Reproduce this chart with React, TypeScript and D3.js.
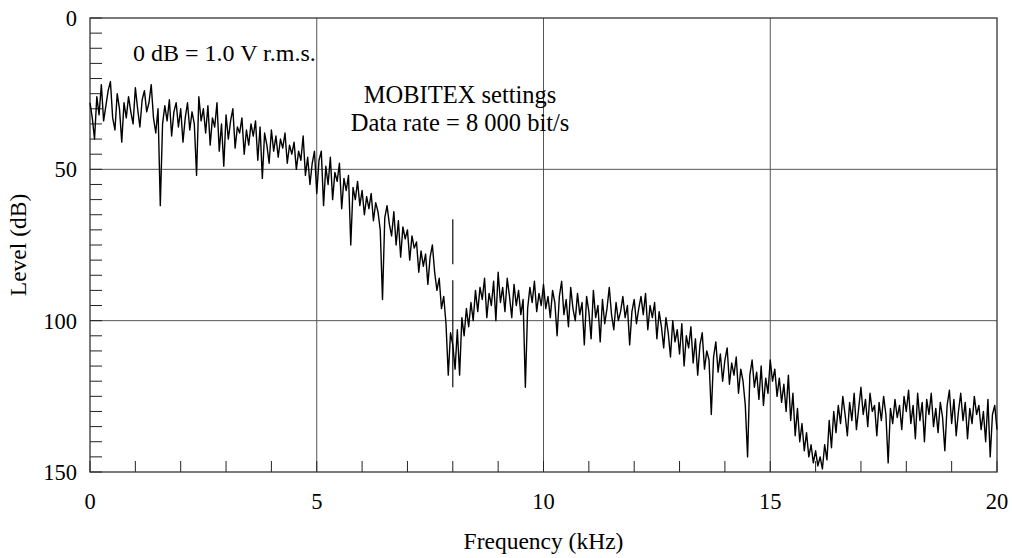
import React, { useRef, useEffect } from 'react';
import * as d3 from 'd3';

// Spectrum level (dB), one value every 0.05 kHz from 0 to 20 kHz
const freqStep = 0.05;
const levels: number[] = [
  // 0 - 1 kHz
  28, 33, 40, 26, 32, 22, 34, 29, 24, 21, 33, 37, 25, 30, 41, 28, 33, 26, 31, 35,
  // 1 - 2
  23, 30, 36, 27, 24, 31, 28, 22, 33, 38, 30, 62, 35, 29, 34, 27, 39, 31, 28, 36,
  // 2 - 3
  30, 41, 33, 28, 37, 31, 35, 52, 26, 34, 30, 38, 29, 42, 33, 36, 28, 44, 35, 49,
  // 3 - 4
  32, 40, 34, 30, 43, 36, 38, 33, 45, 37, 42, 35, 39, 34, 47, 36, 53, 38, 42, 48,
  // 4 - 5
  37, 44, 39, 46, 40, 43, 38, 48, 42, 45, 41, 50, 44, 47, 39, 52, 46, 55, 48, 44,
  // 5 - 6
  58, 47, 44, 62, 49, 55, 46, 60, 51, 54, 48, 63, 53, 57, 52, 75, 56, 60, 54, 62,
  // 6 - 7
  57, 65, 59, 63, 58, 67, 61, 64, 70, 93, 66, 62, 68, 72, 64, 75, 67, 79, 69, 73,
  // 7 - 8
  70, 80, 72, 76, 74, 84, 77, 82, 78, 88, 79, 75, 84, 90, 86, 96, 92, 101, 118, 104,
  // 8 - 9
  108, 116, 103, 118, 99, 105, 96, 102, 94, 100, 90, 97, 89, 93, 86, 99, 91, 95, 87, 100,
  // 9 - 10
  84, 94, 89, 97, 86, 92, 99, 88, 95, 90, 98, 93, 122, 96, 89, 94, 87, 97, 91, 95,
  // 10 - 11
  88, 96, 92, 99, 90, 94, 105, 92, 87, 98, 93, 102, 89, 96, 100, 91, 98, 94, 108, 92,
  // 11 - 12
  97, 106, 90, 99, 95, 107, 93, 101, 96, 89, 98, 103, 94, 100, 97, 92, 99, 95, 108, 97,
  // 12 - 13
  93, 101, 96, 92, 98, 91, 103, 95, 99, 94, 106, 97, 102, 109, 99, 104, 112, 100, 107, 103,
  // 13 - 14
  111, 101, 115, 105, 109, 102, 114, 106, 118, 108, 104, 116, 110, 113, 131, 112, 107, 117, 111, 120,
  // 14 - 15
  113, 109, 121, 114, 118, 112, 124, 116, 120, 128, 145, 118, 113, 122, 117, 126, 115, 128, 119, 124,
  // 15 - 16
  113, 120, 116, 125, 119, 127, 121, 130, 118, 133, 124, 138, 129, 140, 134, 143, 137, 145, 141, 147,
  // 16 - 17
  143, 148, 145, 149, 141, 146, 133, 142, 130, 137, 128, 134, 125, 131, 138, 127, 133, 124, 136, 129,
  // 17 - 18
  122, 131, 126, 135, 124, 130, 128, 138, 127, 133, 125, 131, 147, 129, 134, 126, 132, 128, 136, 125,
  // 18 - 19
  130, 123, 134, 128, 139, 124, 133, 127, 140, 126, 131, 124, 135, 129, 137, 127, 132, 143, 128, 123,
  // 19 - 20
  134, 126, 138, 130, 124, 133, 127, 139, 129, 134, 125, 131, 128, 136, 130, 140, 126, 145, 131, 128,
  136,
];

const xMajorTicks = [0, 5, 10, 15, 20];
const xMinorTicks = d3.range(0, 21, 1);
const yMajorTicks = [0, 50, 100, 150];
const yMinorTicks = d3.range(0, 151, 5);

// dashed marker at the data rate frequency
const markerFreq = 8;
const markerLevels: [number, number] = [66.5, 122];

const App: React.FC = () => {
  const svgRef = useRef<SVGSVGElement>(null);

  useEffect(() => {
    if (!svgRef.current) return;

    const W = 1012;
    const H = 558;
    const margin = { top: 18, right: 15, bottom: 86, left: 90 };
    const width = W - margin.left - margin.right;
    const height = H - margin.top - margin.bottom;
    const font = '"Liberation Serif", "Times New Roman", serif';

    d3.select(svgRef.current).selectAll('*').remove();

    const svg = d3.select(svgRef.current)
      .attr('width', W)
      .attr('height', H)
      .append('g')
      .attr('transform', `translate(${margin.left},${margin.top})`);

    const x = d3.scaleLinear().domain([0, 20]).range([0, width]);
    const y = d3.scaleLinear().domain([0, 150]).range([0, height]);

    const gridColor = '#555';

    // Grid lines
    svg.selectAll('.vgrid')
      .data(xMajorTicks.slice(1, -1))
      .enter()
      .append('line')
      .attr('x1', d => x(d)).attr('x2', d => x(d))
      .attr('y1', 0).attr('y2', height)
      .attr('stroke', gridColor)
      .attr('stroke-width', 1);

    svg.selectAll('.hgrid')
      .data(yMajorTicks.slice(1, -1))
      .enter()
      .append('line')
      .attr('x1', 0).attr('x2', width)
      .attr('y1', d => y(d)).attr('y2', d => y(d))
      .attr('stroke', gridColor)
      .attr('stroke-width', 1);

    // Minor ticks (inward)
    svg.selectAll('.ytick')
      .data(yMinorTicks)
      .enter()
      .append('line')
      .attr('x1', 0).attr('x2', 12)
      .attr('y1', d => y(d)).attr('y2', d => y(d))
      .attr('stroke', '#222')
      .attr('stroke-width', 1);

    svg.selectAll('.xtick')
      .data(xMinorTicks)
      .enter()
      .append('line')
      .attr('x1', d => x(d)).attr('x2', d => x(d))
      .attr('y1', height).attr('y2', height - 11)
      .attr('stroke', '#222')
      .attr('stroke-width', 1);

    // Frame
    svg.append('rect')
      .attr('x', 0).attr('y', 0)
      .attr('width', width).attr('height', height)
      .attr('fill', 'none')
      .attr('stroke', '#333')
      .attr('stroke-width', 1.3);

    // Tick labels
    svg.selectAll('.ylabel')
      .data(yMajorTicks)
      .enter()
      .append('text')
      .attr('x', -13)
      .attr('y', d => y(d))
      .attr('dy', '0.35em')
      .attr('text-anchor', 'end')
      .style('font-family', font)
      .style('font-size', '22.5px')
      .text(d => String(d));

    svg.selectAll('.xlabel')
      .data(xMajorTicks)
      .enter()
      .append('text')
      .attr('x', d => x(d))
      .attr('y', height + 37)
      .attr('text-anchor', 'middle')
      .style('font-family', font)
      .style('font-size', '22.5px')
      .text(d => String(d));

    // Axis titles
    svg.append('text')
      .attr('x', width / 2)
      .attr('y', height + 77)
      .attr('text-anchor', 'middle')
      .style('font-family', font)
      .style('font-size', '23.5px')
      .text('Frequency (kHz)');

    svg.append('text')
      .attr('transform', `translate(${-64},${height / 2}) rotate(-90)`)
      .attr('text-anchor', 'middle')
      .style('font-family', font)
      .style('font-size', '23.5px')
      .text('Level (dB)');

    // Marker line at 8 kHz
    svg.append('line')
      .attr('x1', x(markerFreq)).attr('x2', x(markerFreq))
      .attr('y1', y(markerLevels[0])).attr('y2', y(markerLevels[1]))
      .attr('stroke', '#111')
      .attr('stroke-width', 1.2)
      .attr('stroke-dasharray', '45,16,200');

    // Spectrum trace
    svg.append('path')
      .datum(levels)
      .attr('fill', 'none')
      .attr('stroke', '#000')
      .attr('stroke-width', 1.4)
      .attr('stroke-linejoin', 'round')
      .attr('d', d3.line<number>()
        .x((_, i) => x(i * freqStep))
        .y(d => y(d))
      );

    // Annotations
    svg.append('text')
      .attr('x', x(0.95))
      .attr('y', 43)
      .style('font-family', font)
      .style('font-size', '24px')
      .text('0 dB = 1.0 V r.m.s.');

    svg.append('text')
      .attr('x', x(8.16))
      .attr('y', 85)
      .attr('text-anchor', 'middle')
      .style('font-family', font)
      .style('font-size', '24.5px')
      .text('MOBITEX settings');

    svg.append('text')
      .attr('x', x(8.16))
      .attr('y', 113)
      .attr('text-anchor', 'middle')
      .style('font-family', font)
      .style('font-size', '24.5px')
      .text('Data rate = 8 000 bit/s');
  }, []);

  return (
    <svg
      ref={svgRef}
      style={{ position: 'absolute', left: 0, top: 0, background: '#fff' }}
    />
  );
};

export default App;
